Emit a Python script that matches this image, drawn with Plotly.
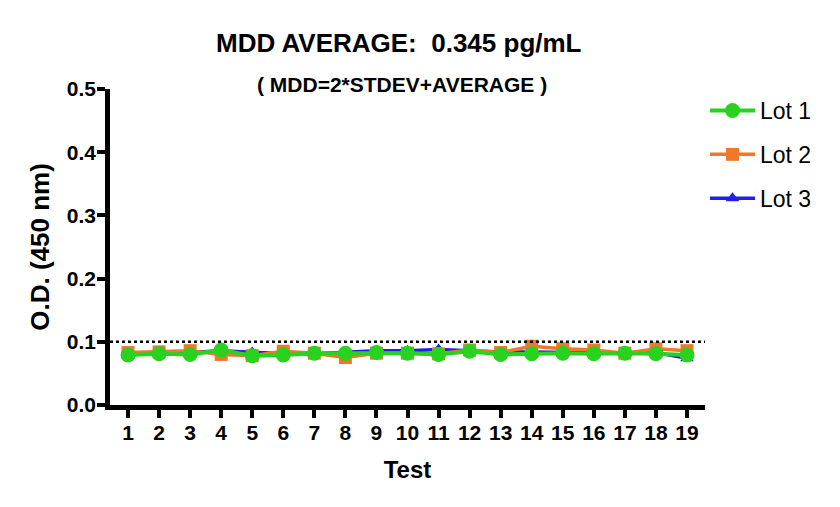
import plotly.graph_objects as go

tests = list(range(1, 20))
lot1 = [0.079, 0.081, 0.080, 0.087, 0.078, 0.079, 0.082, 0.082, 0.083, 0.082,
        0.080, 0.085, 0.080, 0.081, 0.082, 0.081, 0.082, 0.081, 0.079]
lot2 = [0.083, 0.084, 0.086, 0.080, 0.078, 0.085, 0.082, 0.075, 0.082, 0.082,
        0.081, 0.087, 0.083, 0.093, 0.089, 0.087, 0.082, 0.089, 0.086]
lot3 = [0.082, 0.083, 0.083, 0.086, 0.083, 0.081, 0.081, 0.083, 0.086, 0.086,
        0.088, 0.086, 0.084, 0.084, 0.083, 0.082, 0.082, 0.083, 0.074]
mdd_line = 0.1

FONT = "Arial, Liberation Sans, sans-serif"

fig = go.Figure()
fig.add_trace(go.Scatter(x=tests, y=lot3, name="Lot 3", mode="lines+markers",
                         line=dict(color="#2020e0", width=3.5),
                         marker=dict(symbol="triangle-up", size=12, color="#2020e0"),
                         legendrank=3, legendgroup="g3"))
fig.add_trace(go.Scatter(x=tests, y=lot2, name="Lot 2", mode="lines+markers",
                         line=dict(color="#f07828", width=3.5),
                         marker=dict(symbol="square", size=13, color="#f07828"),
                         legendrank=2, legendgroup="g2"))
fig.add_trace(go.Scatter(x=tests, y=lot1, name="Lot 1", mode="lines+markers",
                         line=dict(color="#28d21e", width=4),
                         marker=dict(symbol="circle", size=15, color="#28d21e"),
                         legendrank=1, legendgroup="g1"))

fig.add_hline(y=mdd_line, line=dict(color="black", width=2.5, dash="dot"))

fig.update_layout(
    width=840, height=507,
    paper_bgcolor="white", plot_bgcolor="white",
    margin=dict(l=110, r=135, t=89, b=102),
    font=dict(family=FONT, color="black"),
    legend=dict(x=1.0, xanchor="left", y=1.0, yanchor="top",
                font=dict(size=23, family=FONT), tracegroupgap=11,
                itemwidth=45,
                traceorder="grouped", bgcolor="rgba(0,0,0,0)"),
    xaxis=dict(range=[0.42, 19.58], tickmode="linear", tick0=1, dtick=1,
               showgrid=False, zeroline=False, showline=True, linecolor="black",
               linewidth=4.5, ticks="outside", tickwidth=4, ticklen=8, tickcolor="black",
               ticklabelstandoff=-3,
               tickfont=dict(size=21, family=FONT, weight="bold"),
               title=dict(text="<b>Test</b>", font=dict(size=24, family=FONT), standoff=20)),
    yaxis=dict(range=[0, 0.5], tickmode="linear", tick0=0, dtick=0.1, tickformat=".1f",
               showgrid=False, zeroline=False, showline=True, linecolor="black",
               linewidth=4.5, ticks="outside", tickwidth=4, ticklen=8, tickcolor="black",
               ticklabelstandoff=-3,
               tickfont=dict(size=21, family=FONT, weight="bold"),
               title=dict(text="<b>O.D. (450 nm)</b>", font=dict(size=26, family=FONT), standoff=11)),
    annotations=[
        dict(text="<b>MDD AVERAGE:  0.345 pg/mL</b>", xref="paper", yref="paper",
             x=0.485, y=1.0, yanchor="middle", yshift=46, showarrow=False,
             font=dict(size=26, family=FONT)),
        dict(text="<b>( MDD=2*STDEV+AVERAGE )</b>", xref="paper", yref="paper",
             x=0.49, y=1.0, yanchor="middle", yshift=5, showarrow=False,
             font=dict(size=21, family=FONT)),
    ],
)

fig.write_html("out.html", config={"displayModeBar": False},
               post_script="document.body.style.margin='0px';")
